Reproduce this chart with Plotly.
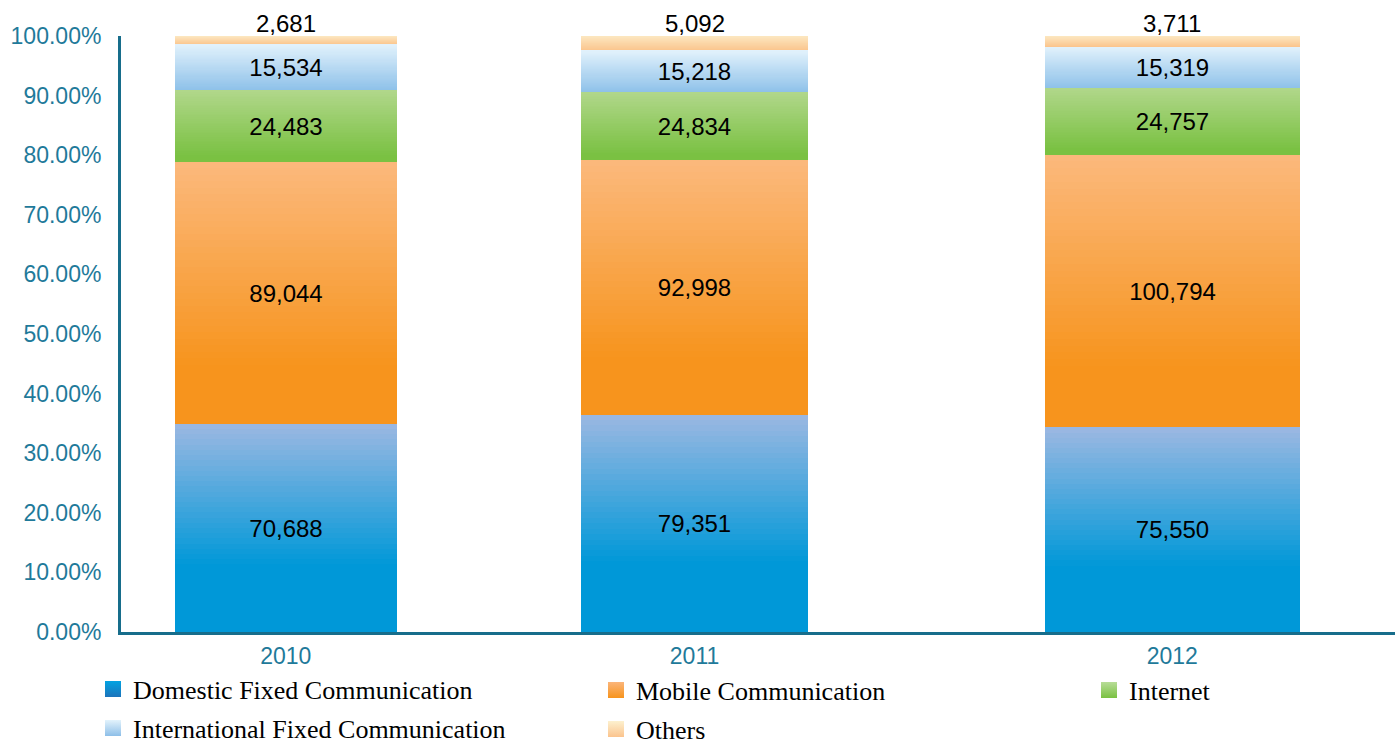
import plotly.graph_objects as go

# ---- data -------------------------------------------------------------
years = ["2010", "2011", "2012"]
domestic = [70688, 79351, 75550]
mobile = [89044, 92998, 100794]
internet = [24483, 24834, 24757]
international = [15534, 15218, 15319]
others = [2681, 5092, 3711]
pct_ticks = list(range(0, 101, 10))

# ---- layout helpers (bar placement on a 0-100 x axis) -----------------
bar_x = [12.93, 45.02, 82.52]
bar_w = [17.4, 17.8, 20.06]

W, H = 1395, 744
TEAL = "#1f7a9a"
AXIS = "#176d8b"
N_SLICES = 40
SANS = "Liberation Sans, Arial"
SERIF = "Liberation Serif, Times New Roman"


def mix(c1, c2, t):
    a = [int(c1[i:i + 2], 16) for i in (1, 3, 5)]
    b = [int(c2[i:i + 2], 16) for i in (1, 3, 5)]
    return "rgb({},{},{})".format(*[round(x + (y - x) * t) for x, y in zip(a, b)])


# name, values, top colour, bottom colour, share of segment the fade covers,
# legend swatch top/bottom, legend box position (px)
series = [
    ("Domestic Fixed Communication", domestic, "#9cb8e2", "#0098d8", 0.68,
     "#02a3e2", "#1c74bb", (93, 689)),
    ("Mobile Communication", mobile, "#fbb97d", "#f7941d", 0.78,
     "#fbb57a", "#f7941d", (596, 690)),
    ("Internet", internet, "#b1d78b", "#7ac142", 0.92,
     "#b8dd98", "#7ac142", (1089, 690)),
    ("International Fixed Communication", international, "#e2f2fc", "#8ec1e9", 1.0,
     "#e3f3fc", "#8ebfe8", (93, 728)),
    ("Others", others, "#fce6bf", "#fbc58d", 1.0,
     "#fdf1cf", "#fbc48e", (596, 729)),
]

totals = [sum(v) for v in zip(domestic, mobile, internet, international, others)]

fig = go.Figure()
base = [0.0, 0.0, 0.0]
label_traces = []
legends = {}
for i, (name, vals, top, bottom, span, ltop, lbot, lpos) in enumerate(series):
    pct = [v / t * 100 for v, t in zip(vals, totals)]
    # vertical fade: stack thin slices of the segment, shading each one
    for k in range(N_SLICES):
        from_top = 1 - (k + 0.5) / N_SLICES
        t = min(from_top / span, 1.0)
        fig.add_trace(go.Bar(
            x=bar_x, width=bar_w,
            base=[b + p * k / N_SLICES for b, p in zip(base, pct)],
            y=[p / N_SLICES for p in pct],
            marker=dict(color=mix(top, bottom, t), line=dict(width=0)),
            showlegend=False, hoverinfo="skip",
        ))
    if name != "Others":
        # value labels centred in each segment
        label_traces.append(go.Bar(
            x=bar_x, width=bar_w, base=list(base), y=pct,
            marker=dict(color="rgba(0,0,0,0)", line=dict(width=0)),
            text=[f"{v:,}" for v in vals], textposition="inside",
            insidetextanchor="middle", textangle=0, constraintext="none",
            textfont=dict(family=SANS, size=24, color="black"),
            showlegend=False, hoverinfo="skip",
        ))
    else:
        # the thin top segment gets its label above the bar
        for xv, b, p, v in zip(bar_x, base, pct, vals):
            fig.add_annotation(
                x=xv, y=round(b + p, 6), xref="x", yref="y", text=f"{v:,}",
                showarrow=False, yanchor="bottom", yshift=-3,
                font=dict(family=SANS, size=24, color="black"),
            )
    # legend swatch, one legend box per entry
    lid = "legend" if i == 0 else f"legend{i + 1}"
    fig.add_trace(go.Scatter(
        x=[None], y=[None], mode="markers", name=name, legend=lid,
        marker=dict(symbol="square", size=20, color=ltop,
                    gradient=dict(type="vertical", color=lbot)),
    ))
    legends[lid] = dict(
        x=lpos[0] / W, y=1 - lpos[1] / H, xref="container", yref="container",
        xanchor="left", yanchor="middle", orientation="h",
        font=dict(family=SERIF, size=26, color="black"),
        bgcolor="rgba(0,0,0,0)", itemclick=False, itemdoubleclick=False,
    )
    base = [b + p for b, p in zip(base, pct)]

for tr in label_traces:
    fig.add_trace(tr)

fig.update_layout(
    width=W, height=H,
    margin=dict(l=121, r=0, t=36, b=112, autoexpand=False),
    paper_bgcolor="white", plot_bgcolor="white",
    barmode="overlay", bargap=0,
    showlegend=True,
    **legends,
    xaxis=dict(
        range=[0, 100], tickvals=bar_x, ticktext=years,
        showline=True, linecolor=AXIS, linewidth=3,
        showgrid=False, zeroline=False, ticks="",
        tickfont=dict(family=SANS, size=23, color=TEAL),
        ticklabelstandoff=1, fixedrange=True, automargin=False,
    ),
    yaxis=dict(
        range=[0, 100], tickvals=pct_ticks,
        ticktext=[f"{v:.2f}%" for v in pct_ticks],
        showline=True, linecolor=AXIS, linewidth=3,
        showgrid=False, zeroline=False, ticks="",
        tickfont=dict(family=SANS, size=23, color=TEAL),
        ticklabelstandoff=12, fixedrange=True, automargin=False,
    ),
)

fig.write_html("out.html")
